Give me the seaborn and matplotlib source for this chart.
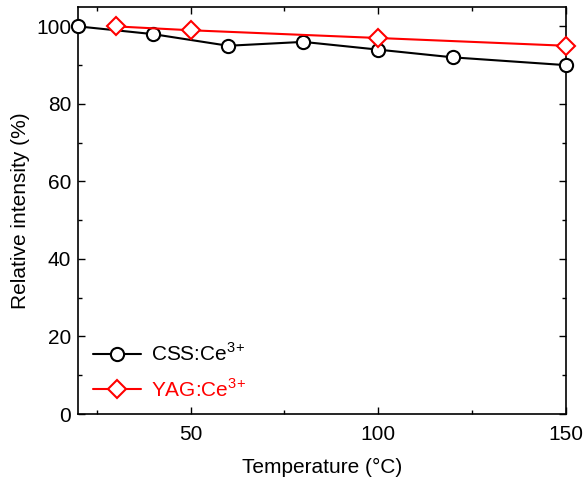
import matplotlib
matplotlib.use("Agg")
import matplotlib.pyplot as plt
from matplotlib.ticker import MultipleLocator
import seaborn as sns
import pandas as pd

css_temp = [20, 40, 60, 80, 100, 120, 150]
css_intensity = [100, 98, 95, 96, 94, 92, 90]
yag_temp = [30, 50, 100, 150]
yag_intensity = [100, 99, 97, 95]

sns.set_theme(style="ticks")
plt.rcParams["font.family"] = ["Liberation Sans", "DejaVu Sans"]
plt.rcParams["mathtext.fontset"] = "custom"
plt.rcParams["mathtext.rm"] = "Liberation Sans"
plt.rcParams["text.color"] = "black"
plt.rcParams["axes.labelcolor"] = "black"

df_css = pd.DataFrame({"T": css_temp, "I": css_intensity})
df_yag = pd.DataFrame({"T": yag_temp, "I": yag_intensity})

W, H = 584, 479
fig = plt.figure(figsize=(W / 100, H / 100), dpi=100)
ax = fig.add_axes([78 / W, 1 - 414 / H, (566 - 78) / W, (414 - 7) / H])

sns.lineplot(data=df_css, x="T", y="I", ax=ax, color="black", lw=1.5,
             marker="o", markersize=9.5, markerfacecolor="white",
             markeredgecolor="black", markeredgewidth=1.5,
             label=r"CSS:Ce$^{3\!+}$", clip_on=False, zorder=3)
sns.lineplot(data=df_yag, x="T", y="I", ax=ax, color="red", lw=1.5,
             marker="D", markersize=9, markerfacecolor="white",
             markeredgecolor="red", markeredgewidth=1.5,
             label=r"YAG:Ce$^{3\!+}$", clip_on=False, zorder=4)

ax.set_xlim(20, 150)
ax.set_ylim(0, 105)
ax.xaxis.set_major_locator(MultipleLocator(50))
ax.xaxis.set_minor_locator(MultipleLocator(25))
ax.yaxis.set_major_locator(MultipleLocator(20))
ax.yaxis.set_minor_locator(MultipleLocator(10))
ax.tick_params(which="both", direction="in", top=True, right=True,
               labelsize=15, colors="black")
ax.tick_params(which="major", length=5, width=1)
ax.tick_params(axis="x", which="major", pad=8)
ax.tick_params(axis="y", which="major", pad=5)
ax.tick_params(which="minor", length=3, width=1)
for s in ax.spines.values():
    s.set_linewidth(1.2)
    s.set_color("black")

ax.set_xlabel("Temperature (°C)", fontsize=15, labelpad=10)
ax.set_ylabel("Relative intensity (%)", fontsize=15, labelpad=4)

leg = ax.legend(loc="lower left", frameon=False, fontsize=15,
                handlelength=2.3, handletextpad=0.5, borderaxespad=0.3,
                labelspacing=0.62, bbox_to_anchor=(0.0, -0.003))
for text, line in zip(leg.get_texts(), leg.get_lines()):
    text.set_color(line.get_color())

fig.savefig("out.png", dpi=100)
